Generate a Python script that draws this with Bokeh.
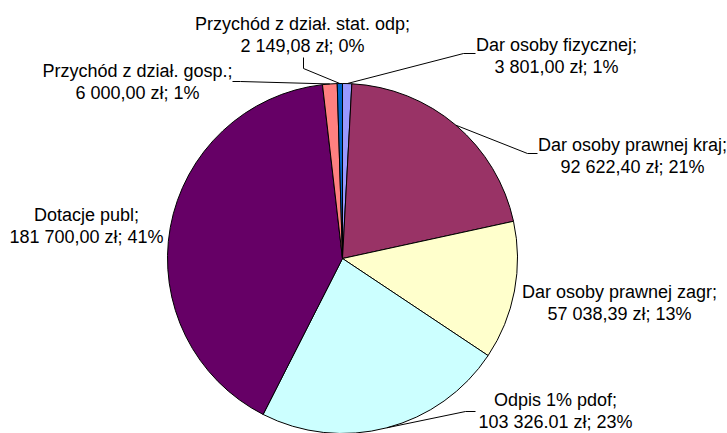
import math
from bokeh.plotting import figure
from bokeh.models import Range1d, ColumnDataSource
from bokeh.core.properties import value
from bokeh.embed import file_html
from bokeh.resources import INLINE

# ---- data ----
categories = ["Dar osoby fizycznej", "Dar osoby prawnej kraj", "Dar osoby prawnej zagr",
              "Odpis 1% pdof", "Dotacje publ", "Przychód z dział. gosp.",
              "Przychód z dział. stat. odp"]
amounts = [3801.00, 92622.40, 57038.39, 103326.01, 181700.00, 6000.00, 2149.08]
amount_labels = ["3 801,00 zł", "92 622,40 zł", "57 038,39 zł", "103 326.01 zł",
                 "181 700,00 zł", "6 000,00 zł", "2 149,08 zł"]
colors = ["#9999FF", "#993366", "#FFFFCC", "#CCFFFF", "#660066", "#FF8080", "#0066CC"]

# ---- layout (page pixel coordinates) ----
W, H = 727, 433
def dx(px): return px
def dy(py): return H - py

CX, CY, R = 342, 258, 175
FONT = "18px"
LINE_GAP = 22

# label centers: (x, y of first line)
label_pos = {
    0: (556, 44),
    1: (632, 144),
    2: (619, 291),
    3: (555, 399),
    4: (86, 214),
    5: (137, 70),
    6: (302, 23),
}
# leader elbows: list of page points after the pie point
leader_pts = {
    0: [(463, 53), (475, 53)],
    1: [(527, 153), (537, 153)],
    3: [(465, 411), (475, 411)],
    5: [(240, 81), (232, 81)],
    6: [(303, 68), (303, 57)],
}

total = sum(amounts)
fracs = [a / total for a in amounts]
pcts = [f"{round(100 * f)}%" for f in fracs]

starts, ends, mids = [], [], []
cum = 0.0
for f in fracs:
    a0, a1 = cum, cum + f
    starts.append(math.pi / 2 - 2 * math.pi * a1)
    ends.append(math.pi / 2 - 2 * math.pi * a0)
    mids.append((a0 + a1) / 2)
    cum = a1

p = figure(width=W, height=H, x_range=Range1d(0, W), y_range=Range1d(0, H),
           output_backend="svg", toolbar_location=None, min_border=0,
           x_axis_type=None, y_axis_type=None)
p.grid.visible = False
p.outline_line_color = None
p.background_fill_color = "white"
p.border_fill_color = "white"

src = ColumnDataSource(dict(cat=categories, start=starts, end=ends, color=colors))
p.wedge(x=dx(CX), y=dy(CY), radius=R, start_angle="start", end_angle="end",
        direction="anticlock", fill_color="color", line_color="black",
        line_width=1, source=src)

# leaders
xs, ys = [], []
for i, pts in leader_pts.items():
    ang = 2 * math.pi * mids[i]
    px = CX + R * math.sin(ang)
    py = CY - R * math.cos(ang)
    line = [(px, py)] + pts
    xs.append([dx(x) for x, _ in line])
    ys.append([dy(y) for _, y in line])
p.multi_line(xs=xs, ys=ys, line_color="black", line_width=1)

# labels
tx, ty, tt = [], [], []
for i, cat in enumerate(categories):
    lx, ly = label_pos[i]
    tx += [dx(lx), dx(lx)]
    ty += [dy(ly), dy(ly + LINE_GAP)]
    tt += [cat + ";", f"{amount_labels[i]}; {pcts[i]}"]
p.text(x=tx, y=ty, text=tt, text_font=value("Liberation Sans"),
       text_font_size=FONT, text_align="center", text_baseline="middle",
       text_color="black")

open("out.html", "w").write(file_html(p, INLINE))
